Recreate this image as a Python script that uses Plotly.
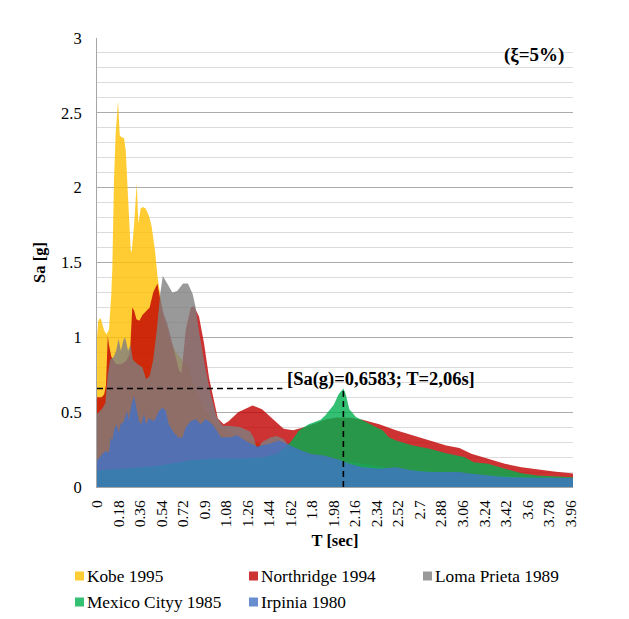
import plotly.graph_objects as go

# Response spectra (5% damping) of five earthquake records, T in seconds, Sa in g
kobe_t = [0, 0.01, 0.03, 0.06, 0.08, 0.1, 0.12, 0.128, 0.142, 0.156, 0.176, 0.19, 0.2, 0.226,
          0.24, 0.254, 0.268, 0.282, 0.29, 0.31, 0.332, 0.346, 0.365, 0.385, 0.407, 0.435,
          0.457, 0.485, 0.507, 0.53, 0.56, 0.6, 0.66, 0.7, 0.76, 0.82, 0.9, 1.0, 1.2, 1.5,
          2.0, 2.5, 3.0, 3.5, 3.98]
kobe_sa = [1.0, 1.11, 1.13, 1.045, 1.02, 1.05, 1.3, 1.46, 2.05, 2.36, 2.58, 2.35, 2.34, 2.33,
           2.25, 2.0, 1.73, 1.58, 1.57, 1.75, 2.03, 1.76, 1.86, 1.87, 1.86, 1.81,
           1.74, 1.58, 1.40, 1.27, 1.12, 1.0, 0.9, 0.86, 0.8, 0.66, 0.52, 0.4, 0.33, 0.25,
           0.17, 0.12, 0.08, 0.06, 0.05]

northridge_t = [0, 0.02, 0.04, 0.06, 0.075, 0.09, 0.1, 0.12, 0.16, 0.2, 0.24, 0.27, 0.28, 0.295,
                0.31, 0.33, 0.354, 0.38, 0.42, 0.44, 0.47, 0.505, 0.53, 0.56, 0.588, 0.644,
                0.686, 0.706, 0.742, 0.784, 0.81, 0.853, 0.895, 0.937, 0.973, 1.01, 1.06, 1.1,
                1.18, 1.3, 1.38, 1.45, 1.5, 1.56, 1.64, 1.73, 1.84, 1.9, 2.0, 2.1, 2.22, 2.36,
                2.5, 2.64, 2.78, 2.92, 3.03, 3.13, 3.27, 3.41, 3.55, 3.68, 3.82, 3.98]
northridge_sa = [0.6, 0.6, 0.6, 0.62, 0.68, 1.01, 0.95, 0.87, 0.82, 0.82, 0.84, 0.88, 0.96, 1.2,
                 1.18, 1.12, 1.11, 1.15, 1.18, 1.2, 1.3, 1.36, 1.25, 1.15, 1.09, 0.91,
                 0.78, 0.76, 1.05, 1.2, 1.21, 1.14, 0.96, 0.73, 0.6, 0.46, 0.42, 0.44,
                 0.5, 0.545, 0.52, 0.47, 0.43, 0.39, 0.38, 0.40, 0.43, 0.45, 0.465, 0.465, 0.45, 0.42,
                 0.38, 0.345, 0.31, 0.278, 0.26, 0.222, 0.189, 0.155, 0.132, 0.117, 0.104, 0.09]

loma_t = [0, 0.04, 0.07, 0.09, 0.11, 0.14, 0.16, 0.18, 0.2, 0.22, 0.235, 0.26, 0.28, 0.3, 0.34,
          0.38, 0.41, 0.44, 0.47, 0.5, 0.53, 0.55, 0.58, 0.63, 0.67, 0.72, 0.76, 0.8, 0.825,
          0.85, 0.9, 0.95, 1.0, 1.05, 1.1, 1.2, 1.28, 1.31, 1.34, 1.38, 1.45, 1.5, 1.56, 1.62,
          1.7, 1.8, 2.0, 2.5, 3.0, 3.5, 3.98]
loma_sa = [0.49, 0.52, 0.56, 0.75, 0.85, 0.87, 0.91, 0.99, 0.91, 0.98, 1.0, 0.91, 0.95, 0.85, 0.82,
           0.8, 0.72, 0.74, 0.85, 1.05, 1.3, 1.41, 1.37, 1.30, 1.31, 1.36, 1.36, 1.29, 1.2,
           1.05, 0.82, 0.62, 0.47, 0.41, 0.41, 0.40, 0.37, 0.33, 0.25, 0.3, 0.33, 0.34, 0.32, 0.26,
           0.22, 0.2, 0.18, 0.12, 0.09, 0.07, 0.05]

mexico_t = [0, 0.2, 0.5, 0.8, 1.0, 1.2, 1.4, 1.5, 1.55, 1.62, 1.69, 1.77, 1.87, 1.91, 1.98, 2.02,
            2.06, 2.08, 2.11, 2.165, 2.22, 2.3, 2.39, 2.44, 2.5, 2.64, 2.78, 2.92, 3.03, 3.07,
            3.15, 3.27, 3.41, 3.55, 3.68, 3.82, 3.98]
mexico_sa = [0.11, 0.12, 0.14, 0.18, 0.19, 0.19, 0.2, 0.22, 0.25, 0.30, 0.38, 0.42, 0.45, 0.48, 0.55, 0.62,
             0.6583, 0.62, 0.52, 0.467, 0.445, 0.41, 0.378, 0.333, 0.31, 0.278, 0.255, 0.226, 0.21, 0.2,
             0.166, 0.155, 0.122, 0.092, 0.077, 0.07, 0.065]

irpinia_t = [0, 0.02, 0.045, 0.072, 0.1, 0.114, 0.128, 0.142, 0.164, 0.184, 0.198, 0.226, 0.248,
             0.265, 0.29, 0.31, 0.332, 0.351, 0.37, 0.393, 0.41, 0.435, 0.477, 0.519, 0.547, 0.575,
             0.6, 0.644, 0.68, 0.714, 0.742, 0.784, 0.825, 0.867, 0.91, 0.965, 1.0, 1.035, 1.12,
             1.17, 1.26, 1.34, 1.45, 1.52, 1.58, 1.69, 1.79, 1.9, 2.03, 2.11, 2.22, 2.36, 2.5,
             2.64, 2.78, 3.03, 3.13, 3.27, 3.41, 3.68, 3.98]
irpinia_sa = [0.177, 0.2, 0.22, 0.24, 0.23, 0.33, 0.31, 0.38, 0.42, 0.36, 0.42, 0.44, 0.51,
              0.45, 0.555, 0.61, 0.51, 0.44, 0.42, 0.49, 0.42, 0.46, 0.44, 0.51, 0.53, 0.51,
              0.42, 0.36, 0.33, 0.33, 0.40, 0.44, 0.455, 0.42, 0.455, 0.42, 0.38, 0.333, 0.333,
              0.345, 0.30, 0.27, 0.29, 0.31, 0.29, 0.25, 0.22, 0.21, 0.18, 0.155, 0.132, 0.122, 0.132,
              0.11, 0.1, 0.1, 0.088, 0.077, 0.066, 0.062, 0.06]

series_names = ["Kobe 1995", "Northridge 1994", "Loma Prieta 1989", "Mexico Cityy 1985", "Irpinia 1980"]
series_t = [kobe_t, northridge_t, loma_t, mexico_t, irpinia_t]
series_sa = [kobe_sa, northridge_sa, loma_sa, mexico_sa, irpinia_sa]
series_colors = ["rgba(255,192,0,0.8)", "rgba(192,0,0,0.8)", "rgba(127,127,127,0.8)",
                 "rgba(0,176,80,0.8)", "rgba(68,114,196,0.8)"]

x_tick_vals = [round(0.18 * i, 2) for i in range(23)]
x_tick_text = ["0", "0.18", "0.36", "0.54", "0.72", "0.9", "1.08", "1.26", "1.44", "1.62", "1.8",
               "1.98", "2.16", "2.34", "2.52", "2.7", "2.88", "3.06", "3.24", "3.42", "3.6", "3.78", "3.96"]
y_tick_vals = [0, 0.5, 1, 1.5, 2, 2.5, 3]
y_tick_text = ["0", "0.5", "1", "1.5", "2", "2.5", "3"]

FONT = "Liberation Serif, Times New Roman, serif"
W, H = 629, 619
L, R, T_, B = 97, 56, 38, 132

fig = go.Figure()
for name, xs, ys, col in zip(series_names, series_t, series_sa, series_colors):
    fig.add_trace(go.Scatter(x=xs, y=ys, name=name, mode="lines", fill="tozeroy",
                             fillcolor=col, line=dict(width=0, color=col),
                             showlegend=False))

# peak of the Mexico City spectrum, marked with dashed guides
peak_sa = max(mexico_sa)
peak_t = mexico_t[mexico_sa.index(peak_sa)]
label = "[Sa(g)={}; T={}s]".format(f"{peak_sa:.4f}".replace(".", ","),
                                   f"{peak_t:.2f}".replace(".", ","))
label_t = 1.57
dash = dict(color="black", width=1.6, dash="6px,4px")
fig.add_shape(type="line", x0=0, x1=label_t - 0.02, y0=peak_sa, y1=peak_sa, line=dash, layer="above")
fig.add_shape(type="line", x0=peak_t, x1=peak_t, y0=0, y1=peak_sa, line=dash, layer="above")
fig.add_annotation(x=label_t, y=peak_sa, xref="x", yref="y", text="<b>" + label + "</b>",
                   showarrow=False, xanchor="left", yanchor="bottom", yshift=-4,
                   font=dict(family=FONT, size=18.5, color="black"))
fig.add_annotation(x=1, y=1, xref="paper", yref="paper", text="<b>(ξ=5%)</b>",
                   showarrow=False, xanchor="right", yanchor="middle", xshift=-7, yshift=-17,
                   font=dict(family=FONT, size=19, color="black"))

# legend: colour squares with labels in a 3-column grid
pw = W - L - R
ph = H - T_ - B
def px_x(p):
    return (p - L) / pw
def px_y(p):
    return (H - B - p) / ph
legend_cols = [75, 249, 423]
legend_rows = [576, 602]
for i, (name, col) in enumerate(zip(series_names, series_colors)):
    cx = legend_cols[i % 3]
    cy = legend_rows[i // 3]
    fig.add_shape(type="rect", xref="paper", yref="paper",
                  x0=px_x(cx), x1=px_x(cx + 9), y0=px_y(cy + 4.5), y1=px_y(cy - 4.5),
                  fillcolor=col, line=dict(width=0))
    fig.add_annotation(x=px_x(cx + 10), y=px_y(cy), xref="paper", yref="paper", text=name,
                       showarrow=False, xanchor="left", yanchor="middle",
                       font=dict(family=FONT, size=17.3, color="black"))

fig.update_layout(
    width=W, height=H,
    margin=dict(l=L, r=R, t=T_, b=B, autoexpand=False),
    paper_bgcolor="white", plot_bgcolor="white",
    showlegend=False,
    font=dict(family=FONT, color="black"),
    xaxis=dict(range=[0, 3.98], tickmode="array", tickvals=x_tick_vals, ticktext=x_tick_text,
               tickangle=-90, tickfont=dict(size=15.5), showgrid=False, zeroline=False,
               showline=True, linecolor="#A6A6A6", linewidth=1, ticks="",
               ticklabelstandoff=6,
               title=dict(text="<b>T [sec]</b>", font=dict(size=16.5), standoff=8)),
    yaxis=dict(range=[0, 3], tickmode="array", tickvals=y_tick_vals, ticktext=y_tick_text,
               tickfont=dict(size=16.5), showgrid=True, gridcolor="#ABABAB", gridwidth=1,
               minor=dict(dtick=0.1, showgrid=True, gridcolor="#DCDCDC", gridwidth=1),
               zeroline=False, showline=True, linecolor="#A6A6A6", linewidth=1, ticks="",
               ticklabelstandoff=11,
               title=dict(text="<b>Sa [g]</b>", font=dict(size=16.5), standoff=11)),
)

fig.write_html("out.html")
